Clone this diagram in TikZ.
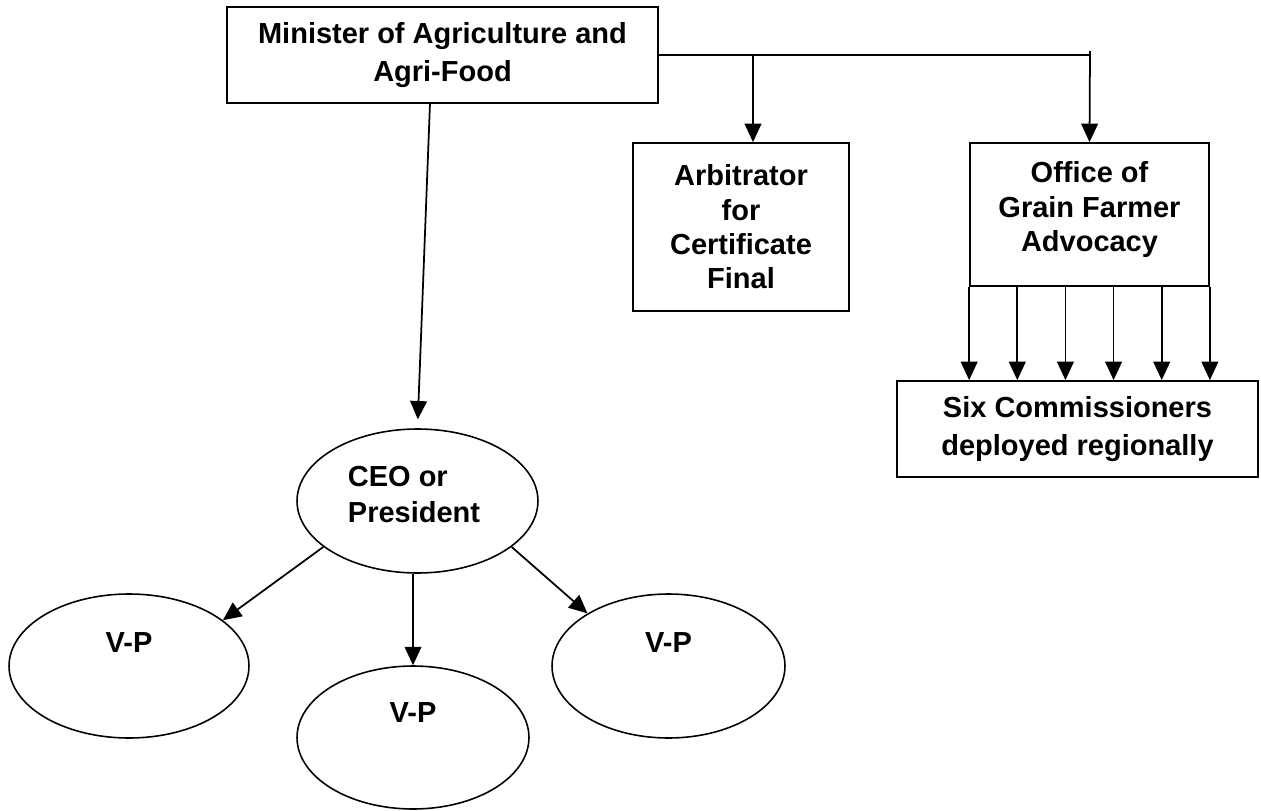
\documentclass[tikz,border=0pt]{standalone}
\usepackage{fontspec}
\setmainfont{Liberation Sans}
\usetikzlibrary{arrows.meta,shapes.geometric,calc}

\tikzset{
  box/.style={draw, line width=1pt, align=center, inner sep=0pt,
    font=\bfseries\fontsize{16.5}{19.5}\selectfont},
  widebox/.style={box, font=\bfseries\fontsize{16.5}{21.5}\selectfont},
  oval/.style={draw, ellipse, line width=0.9pt, inner sep=0pt},
  ovaltext/.style={font=\bfseries\fontsize{16.5}{20}\selectfont},
  arr/.style={line width=1pt, -{Triangle[length=10.5pt,width=9.5pt]}},
  link/.style={line width=1pt}
}

\begin{document}
\begin{tikzpicture}[x=0.02cm, y=-0.02cm]
\useasboundingbox (0,0) rectangle (1261,811);

% top row
\node[widebox, minimum width=8.62cm, minimum height=1.92cm] (minister) at (442.5,55) {Minister of Agriculture and\\Agri-Food};
\node[box, minimum width=4.32cm, minimum height=3.36cm] (arb) at (741,227) {Arbitrator\\for\\Certificate\\Final};
\node[box, minimum width=4.78cm, minimum height=2.86cm,
  text depth=9pt] (office) at (1089.5,214.5) {Office of\\Grain Farmer\\Advocacy};
\node[widebox, minimum width=7.22cm, minimum height=1.92cm] (six) at (1077.5,429) {Six Commissioners\\deployed regionally};

% ovals
\node[oval, minimum width=4.82cm, minimum height=2.88cm,
  label={[ovaltext, align=left, xshift=-2pt, yshift=3.7pt]center:{CEO or\\President}}] (ceo) at (417.5,501) {};
\node[oval, minimum width=4.8cm, minimum height=2.88cm,
  label={[ovaltext, yshift=13.6pt]center:V-P}] (vpl) at (129,666) {};
\node[oval, minimum width=4.64cm, minimum height=2.86cm,
  label={[ovaltext, yshift=14pt]center:V-P}] (vpm) at (413,737.5) {};
\node[oval, minimum width=4.66cm, minimum height=2.88cm,
  label={[ovaltext, yshift=13.6pt]center:V-P}] (vpr) at (668.5,666) {};

% minister links
\coordinate (busend) at (1090,51);
\coordinate (arbtap) at (753,55);
\coordinate (mfoot) at (430,103);
\draw[link] (minister.east) -- (minister.east -| busend);
\draw[arr] (busend) -- (office.north);
\draw[arr] (arbtap) -- (arbtap |- arb.north);
\draw[arr, shorten >=5pt] (mfoot) -- (ceo.north);

% office to commissioners
\foreach \i in {0,...,5}
  \draw[arr] ($(office.south west)!\i/5!(office.south east)$) coordinate (t\i) -- (t\i |- six.north);

% ceo to v-p
\draw[arr] (ceo.206) -- (vpl.26);
\draw[arr] (ceo.south -| vpm.north) -- (vpm.north);
\draw[arr] (ceo.334) -- (vpr.147);
\end{tikzpicture}
\end{document}
